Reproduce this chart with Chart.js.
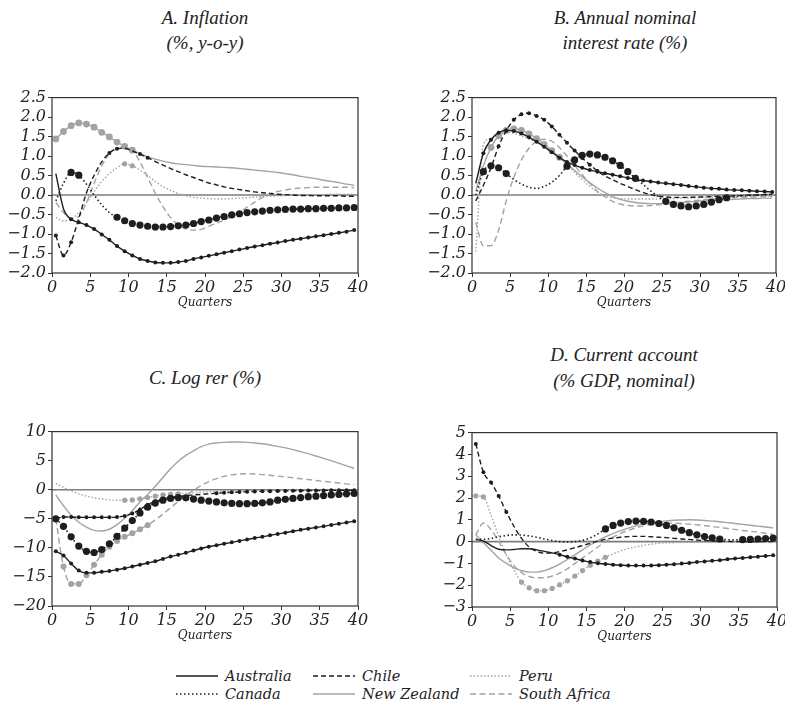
<!DOCTYPE html>
<html>
<head>
<meta charset="utf-8">
<script src="https://cdn.jsdelivr.net/npm/chart.js@4.4.1/dist/chart.umd.min.js"></script>
<style>
  body { margin: 0; background: #fff; width: 785px; height: 724px; position: relative; overflow: hidden; }
  canvas { position: absolute; }
  .title { position: absolute; width: 320px; text-align: center; color: #222;
           font-family: "Liberation Serif", serif; font-style: italic; font-size: 19px; line-height: 25px; }
  #legend { position: absolute; left: 176px; top: 667px; display: grid;
            grid-template-columns: 137px 157px 200px; grid-template-rows: 18px 18px; grid-auto-flow: column;
            font-family: "DejaVu Serif", serif; font-style: italic; font-size: 14.5px; color: #222; }
  #legend div { display: flex; align-items: center; white-space: nowrap; }
  #legend svg { margin-right: 7px; }
</style>
</head>
<body>
<div class="title" style="left:45px; top:5px">A. Inflation<br>(%, y-o-y)</div>
<div class="title" style="left:465px; top:5px">B. Annual nominal<br>interest rate (%)</div>
<div class="title" style="left:45px; top:365px">C. Log rer (%)</div>
<div class="title" style="left:464px; top:342px; line-height:26px">D. Current account<br>(% GDP, nominal)</div>
<canvas id="inflation"></canvas>
<canvas id="rate"></canvas>
<canvas id="rer"></canvas>
<canvas id="account"></canvas>
<div id="legend"></div>
<script>
// quarters after the shock, 1..40
const quarters = Array.from({ length: 40 }, (_, i) => i + 1);
const countries = ['Australia', 'Canada', 'Chile', 'New Zealand', 'Peru', 'South Africa'];

// A. Inflation (%, y-o-y)
const inflAustralia = [0.55, -0.35, -0.62, -0.70, -0.77, -0.87, -1.01, -1.15, -1.31, -1.44, -1.55, -1.64, -1.69, -1.73, -1.74, -1.74, -1.72, -1.69, -1.64, -1.60, -1.56, -1.52, -1.48, -1.44, -1.40, -1.36, -1.32, -1.29, -1.25, -1.22, -1.18, -1.15, -1.12, -1.09, -1.06, -1.03, -1.00, -0.97, -0.94, -0.90];
const inflCanada = [-0.15, 0.30, 0.58, 0.51, 0.28, 0.00, -0.25, -0.45, -0.57, -0.66, -0.73, -0.77, -0.80, -0.82, -0.82, -0.81, -0.79, -0.77, -0.73, -0.68, -0.64, -0.59, -0.55, -0.51, -0.48, -0.45, -0.43, -0.41, -0.39, -0.38, -0.37, -0.36, -0.36, -0.35, -0.35, -0.34, -0.34, -0.33, -0.33, -0.32];
const inflChile = [-1.04, -1.55, -1.21, -0.60, 0.05, 0.50, 0.85, 1.08, 1.19, 1.20, 1.13, 1.05, 0.96, 0.86, 0.77, 0.68, 0.60, 0.52, 0.45, 0.38, 0.31, 0.26, 0.21, 0.17, 0.14, 0.11, 0.08, 0.06, 0.04, 0.02, 0.01, 0.00, -0.01, -0.01, -0.02, -0.02, -0.02, -0.02, -0.03, -0.03];
const inflNewZealand = [1.44, 1.63, 1.78, 1.85, 1.82, 1.74, 1.61, 1.49, 1.36, 1.25, 1.15, 1.06, 0.98, 0.92, 0.87, 0.83, 0.80, 0.78, 0.76, 0.74, 0.73, 0.72, 0.71, 0.70, 0.68, 0.66, 0.64, 0.62, 0.60, 0.58, 0.55, 0.52, 0.48, 0.45, 0.42, 0.38, 0.35, 0.32, 0.28, 0.25];
const inflPeru = [-0.57, -0.66, -0.62, -0.45, -0.20, 0.08, 0.35, 0.55, 0.70, 0.80, 0.75, 0.64, 0.50, 0.35, 0.22, 0.12, 0.04, -0.02, -0.06, -0.08, -0.09, -0.10, -0.10, -0.09, -0.08, -0.07, -0.05, -0.04, -0.03, -0.02, -0.01, 0.00, 0.00, 0.01, 0.01, 0.01, 0.02, 0.02, 0.02, 0.02];
const inflSouthAfrica = [-0.19, -0.45, -0.60, -0.55, -0.20, 0.30, 0.75, 1.05, 1.20, 1.25, 1.15, 0.85, 0.45, 0.05, -0.30, -0.58, -0.77, -0.87, -0.90, -0.88, -0.80, -0.72, -0.64, -0.55, -0.44, -0.31, -0.18, -0.06, 0.03, 0.09, 0.13, 0.16, 0.18, 0.19, 0.20, 0.20, 0.20, 0.20, 0.20, 0.19];

// B. Annual nominal interest rate (%)
const rateAustralia = [0.30, 1.07, 1.42, 1.60, 1.66, 1.64, 1.58, 1.48, 1.37, 1.24, 1.10, 0.96, 0.85, 0.77, 0.70, 0.64, 0.60, 0.56, 0.52, 0.48, 0.44, 0.40, 0.37, 0.35, 0.32, 0.30, 0.28, 0.26, 0.23, 0.21, 0.19, 0.17, 0.16, 0.14, 0.13, 0.12, 0.11, 0.10, 0.09, 0.08];
const rateCanada = [0.00, 0.60, 0.75, 0.70, 0.55, 0.40, 0.28, 0.20, 0.17, 0.22, 0.33, 0.50, 0.74, 0.90, 1.02, 1.05, 1.03, 0.97, 0.88, 0.76, 0.60, 0.43, 0.27, 0.11, -0.04, -0.16, -0.24, -0.28, -0.30, -0.28, -0.24, -0.18, -0.12, -0.07, -0.04, -0.02, -0.01, 0.00, 0.01, 0.02];
const rateChile = [-0.15, 0.25, 0.70, 1.25, 1.65, 1.93, 2.07, 2.10, 2.03, 1.93, 1.76, 1.55, 1.34, 1.14, 0.95, 0.78, 0.62, 0.49, 0.39, 0.30, 0.22, 0.14, 0.07, 0.01, -0.03, -0.05, -0.06, -0.06, -0.06, -0.05, -0.05, -0.04, -0.03, -0.03, -0.02, -0.01, 0.00, 0.00, 0.01, 0.02];
const rateNewZealand = [0.10, 0.75, 1.22, 1.52, 1.66, 1.70, 1.66, 1.57, 1.45, 1.30, 1.14, 0.97, 0.80, 0.63, 0.47, 0.32, 0.18, 0.06, -0.04, -0.11, -0.16, -0.19, -0.21, -0.22, -0.22, -0.21, -0.20, -0.19, -0.18, -0.16, -0.15, -0.14, -0.13, -0.12, -0.11, -0.10, -0.09, -0.09, -0.08, -0.08];
const ratePeru = [-1.45, 1.30, 1.45, 1.55, 1.60, 1.58, 1.52, 1.44, 1.35, 1.24, 1.10, 0.95, 0.78, 0.58, 0.40, 0.22, 0.08, -0.02, -0.07, -0.09, -0.10, -0.10, -0.10, -0.10, -0.10, -0.09, -0.09, -0.08, -0.08, -0.07, -0.06, -0.05, -0.05, -0.04, -0.04, -0.03, -0.03, -0.02, -0.02, -0.02];
const rateSouthAfrica = [-0.70, -1.30, -1.30, -0.90, -0.15, 0.45, 0.90, 1.20, 1.38, 1.43, 1.38, 1.22, 1.00, 0.76, 0.52, 0.30, 0.10, -0.05, -0.16, -0.23, -0.27, -0.28, -0.28, -0.27, -0.25, -0.23, -0.21, -0.18, -0.16, -0.14, -0.12, -0.10, -0.09, -0.08, -0.07, -0.06, -0.05, -0.05, -0.04, -0.04];

// C. Log real exchange rate (%)
const rerAustralia = [-10.6, -11.3, -12.7, -13.9, -14.3, -14.3, -14.1, -14.0, -13.75, -13.5, -13.2, -12.9, -12.6, -12.3, -11.9, -11.5, -11.2, -10.85, -10.45, -10.1, -9.8, -9.55, -9.3, -9.05, -8.8, -8.55, -8.3, -8.1, -7.85, -7.6, -7.4, -7.15, -6.9, -6.7, -6.5, -6.3, -6.05, -5.85, -5.65, -5.4];
const rerCanada = [-5.0, -6.3, -8.1, -9.7, -10.6, -10.8, -10.3, -9.3, -8.0, -6.6, -5.3, -4.0, -3.0, -2.3, -1.8, -1.5, -1.35, -1.4, -1.6, -1.8, -1.95, -2.1, -2.25, -2.35, -2.4, -2.4, -2.35, -2.25, -2.1, -1.8, -1.65, -1.5, -1.35, -1.2, -1.1, -1.0, -0.9, -0.8, -0.7, -0.65];
const rerChile = [-5.0, -4.7, -4.7, -4.75, -4.75, -4.75, -4.75, -4.75, -4.7, -4.5, -4.1, -3.4, -2.6, -2.0, -1.6, -1.3, -1.15, -1.0, -0.9, -0.8, -0.7, -0.6, -0.5, -0.45, -0.4, -0.35, -0.3, -0.28, -0.25, -0.22, -0.2, -0.18, -0.16, -0.15, -0.13, -0.12, -0.11, -0.1, -0.1, -0.1];
const rerNewZealand = [-0.9, -2.75, -4.4, -5.6, -6.45, -7.0, -7.1, -6.8, -6.0, -4.9, -3.6, -2.1, -0.8, 0.6, 2.1, 3.6, 4.9, 5.9, 6.7, 7.4, 7.85, 8.05, 8.15, 8.2, 8.2, 8.15, 8.05, 7.9, 7.7, 7.45, 7.2, 6.9, 6.55, 6.2, 5.8, 5.4, 5.0, 4.55, 4.1, 3.7];
const rerPeru = [1.1, 0.4, -0.2, -0.7, -1.1, -1.4, -1.6, -1.75, -1.8, -1.8, -1.75, -1.55, -1.35, -1.1, -0.9, -0.8, -0.7, -0.6, -0.5, -0.42, -0.36, -0.3, -0.26, -0.22, -0.19, -0.16, -0.14, -0.12, -0.1, -0.09, -0.08, -0.07, -0.06, -0.05, -0.05, -0.04, -0.04, -0.03, -0.03, -0.03];
const rerSouthAfrica = [-5.0, -13.2, -16.2, -16.2, -14.7, -12.9, -11.2, -9.8, -8.8, -8.1, -7.5, -6.8, -6.1, -5.2, -4.2, -3.1, -2.0, -1.0, -0.1, 0.7, 1.4, 1.9, 2.3, 2.55, 2.7, 2.75, 2.7, 2.6, 2.5, 2.35, 2.2, 2.05, 1.9, 1.75, 1.6, 1.45, 1.3, 1.15, 1.0, 0.9];

// D. Current account (% GDP, nominal)
const caAustralia = [0.10, 0.02, -0.18, -0.35, -0.38, -0.36, -0.33, -0.33, -0.38, -0.45, -0.52, -0.60, -0.70, -0.78, -0.87, -0.94, -0.99, -1.03, -1.06, -1.08, -1.10, -1.10, -1.10, -1.10, -1.08, -1.06, -1.04, -1.01, -0.98, -0.94, -0.91, -0.88, -0.85, -0.81, -0.78, -0.75, -0.72, -0.69, -0.66, -0.63];
const caCanada = [0.10, 0.10, 0.15, 0.22, 0.28, 0.31, 0.30, 0.26, 0.20, 0.12, 0.05, 0.00, -0.02, 0.00, 0.06, 0.17, 0.35, 0.58, 0.74, 0.85, 0.92, 0.94, 0.93, 0.90, 0.83, 0.74, 0.63, 0.52, 0.41, 0.31, 0.23, 0.17, 0.12, 0.09, 0.08, 0.09, 0.10, 0.12, 0.14, 0.16];
const caChile = [4.48, 3.18, 2.71, 2.09, 1.36, 0.70, 0.15, -0.25, -0.45, -0.53, -0.52, -0.46, -0.38, -0.28, -0.18, -0.08, 0.02, 0.10, 0.16, 0.20, 0.23, 0.24, 0.24, 0.22, 0.20, 0.18, 0.15, 0.12, 0.10, 0.07, 0.05, 0.03, 0.02, 0.01, 0.00, 0.00, 0.00, 0.00, 0.00, 0.00];
const caNewZealand = [0.30, -0.05, -0.40, -0.75, -1.00, -1.20, -1.33, -1.40, -1.40, -1.33, -1.20, -1.03, -0.82, -0.60, -0.38, -0.15, 0.05, 0.22, 0.37, 0.50, 0.62, 0.72, 0.80, 0.86, 0.91, 0.95, 0.98, 0.99, 1.00, 0.99, 0.97, 0.94, 0.91, 0.87, 0.83, 0.79, 0.75, 0.71, 0.67, 0.63];
const caPeru = [2.10, 2.05, 1.20, 0.25, -0.60, -1.30, -1.86, -2.12, -2.25, -2.25, -2.15, -1.98, -1.80, -1.58, -1.33, -1.08, -0.90, -0.72, -0.56, -0.43, -0.32, -0.24, -0.17, -0.12, -0.08, -0.06, -0.05, -0.04, -0.03, -0.02, -0.02, -0.01, -0.01, 0.00, 0.00, 0.00, 0.00, 0.00, 0.00, 0.00];
const caSouthAfrica = [0.30, 0.85, 0.55, 0.00, -0.60, -1.10, -1.42, -1.60, -1.66, -1.66, -1.58, -1.45, -1.25, -1.00, -0.75, -0.50, -0.25, 0.00, 0.20, 0.38, 0.52, 0.63, 0.72, 0.78, 0.82, 0.84, 0.84, 0.82, 0.80, 0.77, 0.73, 0.69, 0.65, 0.60, 0.56, 0.51, 0.47, 0.43, 0.38, 0.33];

// quarter ranges (0-based, inclusive) where a response is marked as significant
const inflMarked = [[[2, 39]], [[2, 3], [8, 39]], [[0, 2], [7, 8], [11, 12]], [[0, 10]], [[9, 10]], []];
const rateMarked = [[[1, 39]], [[1, 4], [12, 21], [25, 33]], [[3, 16]], [[2, 11]], [], []];
const rerMarked = [[[0, 39]], [[0, 39]], [[0, 13], [21, 39]], [], [[9, 16]], [[1, 12]]];
const caMarked = [[[11, 39]], [[17, 32], [35, 39]], [[0, 4]], [], [[0, 1], [6, 17]], []];

const BLACK = '#1e1e1e';
const GREY = '#a3a3a3';
const looks = {
  'Australia':    { color: BLACK, dash: [],        width: 1.4, dot: 2.0 },
  'Canada':       { color: BLACK, dash: [1.5, 2.5], width: 1.6, dot: 3.6 },
  'Chile':        { color: BLACK, dash: [5, 3],     width: 1.4, dot: 2.0 },
  'New Zealand':  { color: GREY,  dash: [],        width: 1.4, dot: 3.4 },
  'Peru':         { color: GREY,  dash: [1.5, 2],   width: 1.4, dot: 2.6 },
  'South Africa': { color: GREY,  dash: [6, 3.5],   width: 1.4, dot: 3.0 }
};

// each quarter is drawn in the middle of its interval on the 0..40 axis
const quarterMid = quarters.map(q => q - 0.5);

const frame = {
  id: 'frame',
  beforeDatasetsDraw(chart) {
    const { ctx, chartArea: a, scales: { y } } = chart;
    const y0 = y.getPixelForValue(0);
    ctx.save();
    ctx.strokeStyle = '#7c7c7c';
    ctx.lineWidth = 1.6;
    ctx.beginPath();
    ctx.moveTo(a.left, y0);
    ctx.lineTo(a.right, y0);
    ctx.stroke();
    ctx.restore();
  },
  afterDraw(chart) {
    const { ctx, chartArea: a } = chart;
    ctx.save();
    ctx.strokeStyle = '#333';
    ctx.lineWidth = 1.2;
    ctx.strokeRect(a.left, a.top, a.right - a.left, a.bottom - a.top);
    ctx.restore();
  }
};

const tickFont = { family: '"DejaVu Serif", serif', style: 'italic', size: 16 };
const Y_AXIS_W = 50, X_AXIS_H = 45, PAD_TOP = 10, PAD_RIGHT = 12;

function drawPanel(id, area, series, marked, yMin, yMax, yStep, decimals) {
  const canvas = document.getElementById(id);
  const w = area.right - area.left, h = area.bottom - area.top;
  canvas.width = Math.round(w + Y_AXIS_W + PAD_RIGHT);
  canvas.height = Math.round(h + PAD_TOP + X_AXIS_H);
  canvas.style.left = (area.left - Y_AXIS_W) + 'px';
  canvas.style.top = (area.top - PAD_TOP) + 'px';

  const datasets = countries.map((name, k) => {
    const look = looks[name];
    const radius = quarters.map((q, i) =>
      marked[k].some(([a, b]) => i >= a && i <= b) ? look.dot : 0);
    return {
      label: name,
      data: series[k].map((v, i) => ({ x: quarterMid[i], y: v })),
      borderColor: look.color,
      backgroundColor: look.color,
      borderWidth: look.width,
      borderDash: look.dash,
      pointRadius: radius,
      pointBackgroundColor: look.color,
      pointBorderWidth: 0,
      pointHoverRadius: 0,
      cubicInterpolationMode: 'monotone',
      fill: false
    };
  });

  new Chart(canvas, {
    type: 'line',
    data: { datasets },
    options: {
      responsive: false,
      animation: false,
      events: [],
      layout: { padding: { top: PAD_TOP, right: PAD_RIGHT, left: 0, bottom: 0 } },
      plugins: { legend: { display: false }, tooltip: { enabled: false } },
      scales: {
        x: {
          type: 'linear', min: 0, max: 40,
          afterFit(s) { s.height = X_AXIS_H; },
          ticks: { stepSize: 5, font: tickFont, color: '#222', padding: 1, maxRotation: 0, autoSkip: false },
          grid: { drawOnChartArea: false, tickLength: 4, color: '#333' },
          border: { display: false },
          title: { display: true, text: 'Quarters', color: '#222',
                   font: { family: '"DejaVu Serif", serif', style: 'italic', size: 12 },
                   padding: { top: 0, bottom: 8 } }
        },
        y: {
          min: yMin, max: yMax,
          afterFit(s) { s.width = Y_AXIS_W; },
          ticks: { stepSize: yStep, font: tickFont, color: '#222', padding: 2, autoSkip: false,
                   callback: v => v.toFixed(decimals).replace('-', '\u2212') },
          grid: { drawOnChartArea: false, tickLength: 4, color: '#333' },
          border: { display: false }
        }
      }
    },
    plugins: [frame]
  });
}

drawPanel('inflation', { left: 51.7, right: 357.7, top: 96, bottom: 272.7 },
  [inflAustralia, inflCanada, inflChile, inflNewZealand, inflPeru, inflSouthAfrica],
  inflMarked, -2, 2.5, 0.5, 1);
drawPanel('rate', { left: 472.3, right: 776.7, top: 96, bottom: 272.7 },
  [rateAustralia, rateCanada, rateChile, rateNewZealand, ratePeru, rateSouthAfrica],
  rateMarked, -2, 2.5, 0.5, 1);
drawPanel('rer', { left: 51.7, right: 357.7, top: 430, bottom: 606 },
  [rerAustralia, rerCanada, rerChile, rerNewZealand, rerPeru, rerSouthAfrica],
  rerMarked, -20, 10, 5, 0);
drawPanel('account', { left: 471.7, right: 776.7, top: 430.7, bottom: 606.7 },
  [caAustralia, caCanada, caChile, caNewZealand, caPeru, caSouthAfrica],
  caMarked, -3, 5, 1, 0);

// legend: line sample + country name, filled column by column
const legend = document.getElementById('legend');
countries.forEach(name => {
  const look = looks[name];
  const item = document.createElement('div');
  item.innerHTML =
    '<svg width="42" height="8"><line x1="0" y1="4" x2="42" y2="4" stroke="' + look.color +
    '" stroke-width="' + look.width + '" stroke-dasharray="' + (look.dash.join(' ') || 'none') + '"/></svg>' +
    '<span>' + name + '</span>';
  legend.appendChild(item);
});
</script>
</body>
</html>
